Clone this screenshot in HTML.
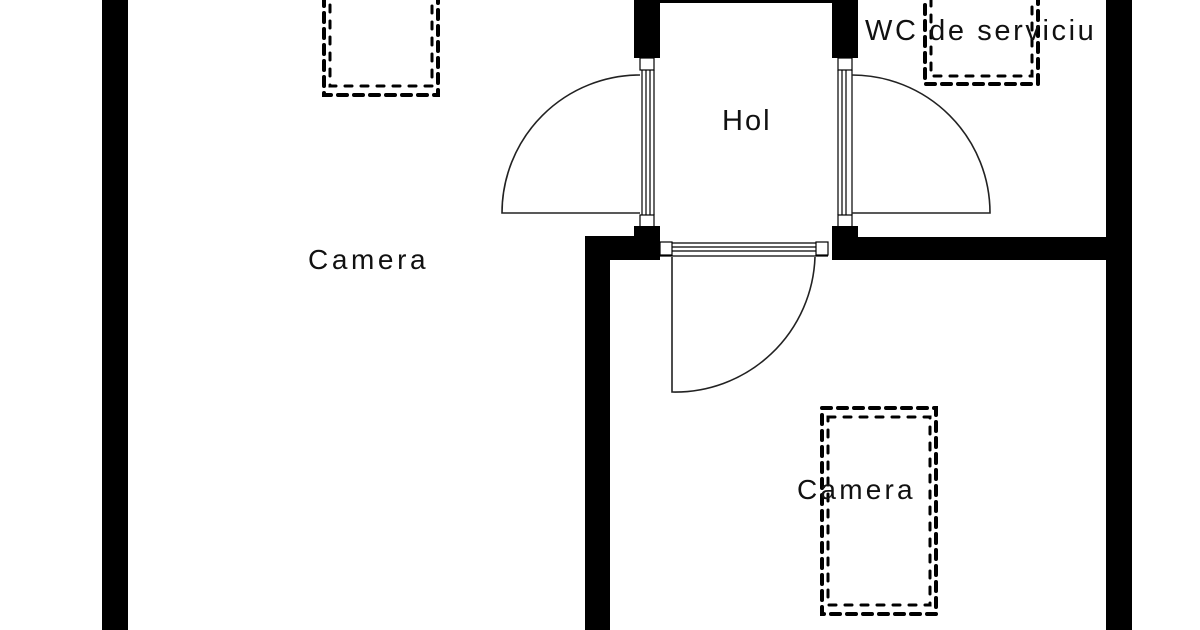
<!DOCTYPE html>
<html><head><meta charset="utf-8"><style>
html,body{margin:0;padding:0;background:#fff;width:1200px;height:630px;overflow:hidden}
svg{display:block}
text{font-family:"Liberation Sans",sans-serif;fill:#111}
</style></head><body>
<svg width="1200" height="630" viewBox="0 0 1200 630" xmlns="http://www.w3.org/2000/svg">
<rect width="1200" height="630" fill="#fff"/>
<rect x="102" y="0" width="26" height="630" fill="#000"/>
<rect x="1106" y="0" width="26" height="630" fill="#000"/>
<rect x="634" y="0" width="26" height="58" fill="#000"/>
<rect x="832" y="0" width="26" height="58" fill="#000"/>
<line x1="660" y1="1.5" x2="832" y2="1.5" stroke="#000" stroke-width="3"/>
<g fill="none" stroke="#000" stroke-width="1.2">
<rect x="640" y="58" width="14" height="12"/>
<rect x="640" y="215" width="14" height="12"/>
<line x1="642" y1="70" x2="642" y2="215"/><line x1="646" y1="70" x2="646" y2="215"/><line x1="650" y1="70" x2="650" y2="215"/><line x1="654" y1="70" x2="654" y2="215"/>
<rect x="838" y="58" width="14" height="12"/>
<rect x="838" y="215" width="14" height="12"/>
<line x1="838" y1="70" x2="838" y2="215"/><line x1="842" y1="70" x2="842" y2="215"/><line x1="846" y1="70" x2="846" y2="215"/><line x1="852" y1="70" x2="852" y2="215"/>
<rect x="660" y="242" width="12" height="13"/>
<rect x="816" y="242" width="12" height="13"/>
<line x1="672" y1="243" x2="816" y2="243"/><line x1="672" y1="247" x2="816" y2="247"/><line x1="672" y1="251" x2="816" y2="251"/><line x1="660" y1="256" x2="828" y2="256"/>
</g>
<rect x="634" y="226" width="26" height="34" fill="#000"/>
<rect x="585" y="236" width="75" height="24" fill="#000"/>
<rect x="585" y="236" width="25" height="394" fill="#000"/>
<rect x="832" y="226" width="26" height="34" fill="#000"/>
<rect x="832" y="237" width="274" height="23" fill="#000"/>
<g fill="none" stroke="#222" stroke-width="1.6">
<path d="M640 213 L502 213 A138 138 0 0 1 640 75"/>
<path d="M852 213 L990 213 A138 138 0 0 0 852 75"/>
<path d="M672 257 L672 392 A140 140 0 0 0 815 257"/>
</g>
<g fill="none" stroke="#000" stroke-linecap="round">
<rect x="324" y="-20" width="114" height="115" stroke-width="4" stroke-dasharray="9 7"/>
<rect x="330" y="-20" width="102" height="106" stroke-width="3" stroke-dasharray="7 9"/>
<rect x="925" y="-20" width="113" height="104" stroke-width="4" stroke-dasharray="9 7"/>
<rect x="931" y="-20" width="101" height="96" stroke-width="3" stroke-dasharray="7 9"/>
<rect x="822" y="408" width="114" height="206" stroke-width="4" stroke-dasharray="9 7"/>
<rect x="828" y="417" width="102" height="188" stroke-width="3" stroke-dasharray="7 9"/>
</g>
<text x="308" y="269" font-size="28" letter-spacing="3.6" fill="#444">Camera</text>
<text x="722" y="130" font-size="29" letter-spacing="2">Hol</text>
<text x="865" y="40" font-size="29" letter-spacing="2.6">WC de serviciu</text>
<text x="797" y="499" font-size="28" letter-spacing="3.2">Camera</text>
</svg>
</body></html>
